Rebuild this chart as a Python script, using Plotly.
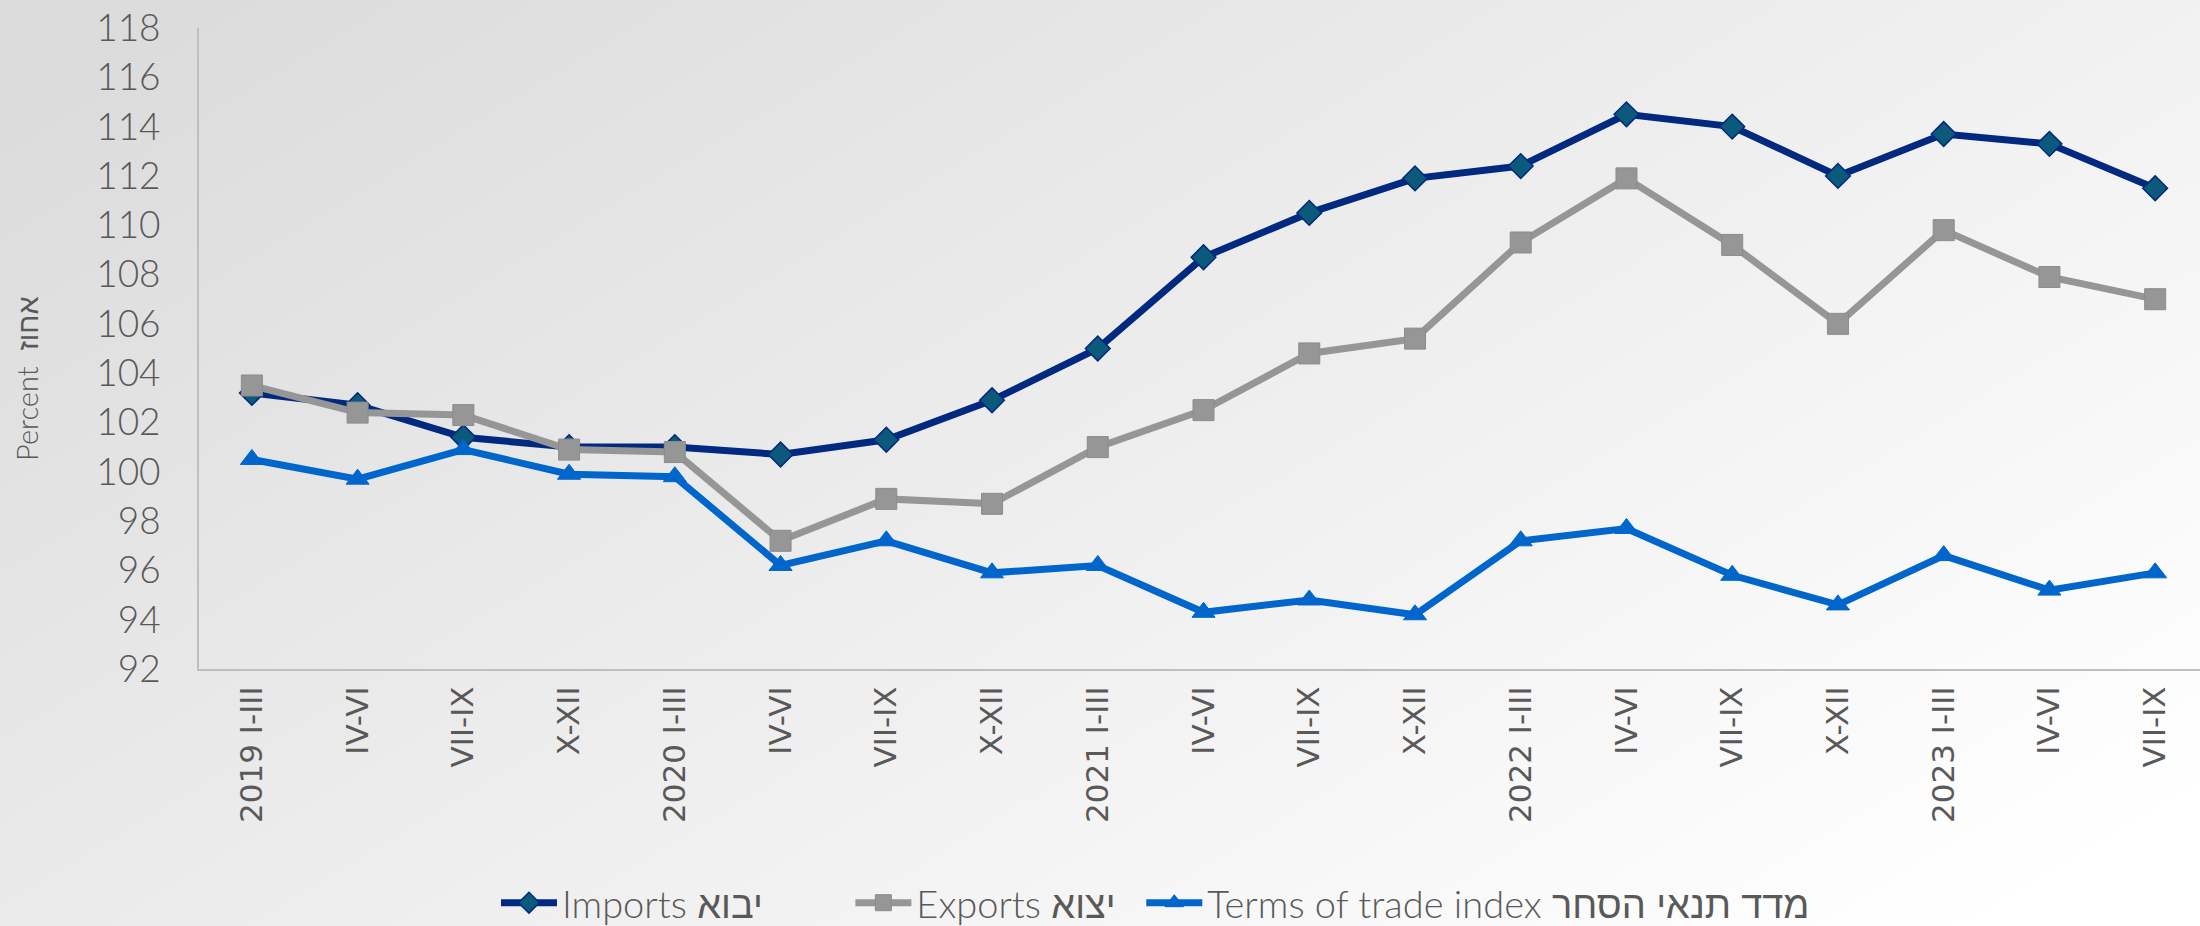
import base64
import plotly.graph_objects as go

categories = ["2019 I-III", "IV-VI", "VII-IX", "X-XII",
              "2020 I-III", "IV-VI", "VII-IX", "X-XII",
              "2021 I-III", "IV-VI", "VII-IX", "X-XII",
              "2022 I-III", "IV-VI", "VII-IX", "X-XII",
              "2023 I-III", "IV-VI", "VII-IX"]

imports = [103.2, 102.7, 101.4, 101.0, 101.0, 100.7, 101.3, 102.9,
           105.0, 108.7, 110.5, 111.9, 112.4, 114.5, 114.0, 112.0,
           113.7, 113.3, 111.5]
exports = [103.5, 102.4, 102.3, 100.9, 100.8, 97.2, 98.9, 98.7,
           101.0, 102.5, 104.8, 105.4, 109.3, 111.9, 109.2, 106.0,
           109.8, 107.9, 107.0]
terms = [100.5, 99.7, 100.9, 99.9, 99.8, 96.2, 97.2, 95.9,
         96.2, 94.3, 94.8, 94.2, 97.2, 97.7, 95.8, 94.6,
         96.6, 95.2, 95.9]

names = ["Imports יבוא", "Exports יצוא", "Terms of trade index מדד תנאי הסחר"]
y_ticks = list(range(92, 119, 2))

W, H = 2200, 926
L, R, T, B = 199, 0, 28, 257
pw = W - L - R
ph = H - T - B
NB = "\u00a0"

svg = f'''<svg xmlns="http://www.w3.org/2000/svg" width="{W}" height="{H}" viewBox="0 0 {W} {H}" preserveAspectRatio="none">
<defs><linearGradient id="g" x1="0" y1="0.15" x2="1" y2="0.85">
<stop offset="0" stop-color="#dcdcdc"/>
<stop offset="0.45" stop-color="#ececec"/>
<stop offset="1" stop-color="#ffffff"/>
</linearGradient></defs>
<rect x="0" y="0" width="{W}" height="{H}" fill="url(#g)"/>
</svg>'''
src = "data:image/svg+xml;base64," + base64.b64encode(svg.encode()).decode()

fig = go.Figure()
xs = list(range(len(categories)))
fig.add_trace(go.Scatter(
    x=xs, y=imports, name=names[0] + NB * 8, mode="lines+markers",
    line=dict(color="#00297f", width=7),
    marker=dict(symbol="diamond", size=19, color="#0b5a7c",
                line=dict(color="#00297f", width=1.5))))
fig.add_trace(go.Scatter(
    x=xs, y=exports, name=names[1] + NB * 2, mode="lines+markers",
    line=dict(color="#969696", width=7),
    marker=dict(symbol="square", size=21, color="#969696",
                line=dict(color="#8c8c8c", width=1))))
fig.add_trace(go.Scatter(
    x=xs, y=terms, name=names[2], mode="lines+markers",
    line=dict(color="#0066cc", width=7),
    marker=dict(symbol="triangle-up", size=20, color="#0066cc",
                line=dict(color="#0066cc", width=1))))

fig.update_layout(
    width=W, height=H,
    margin=dict(l=L, r=R, t=T, b=B, pad=0, autoexpand=False),
    paper_bgcolor="#ffffff",
    plot_bgcolor="rgba(0,0,0,0)",
    images=[dict(source=src, xref="paper", yref="paper",
                 x=-L / pw, y=1 + T / ph, sizex=W / pw, sizey=H / ph,
                 sizing="stretch", xanchor="left", yanchor="top",
                 layer="below", opacity=1)],
    showlegend=True,
    legend=dict(orientation="h", x=0.478, xanchor="center",
                yref="container", y=1 - 903 / H, yanchor="middle",
                font=dict(family="Lato, sans-serif", size=38, weight=300, color="#595959"),
                bgcolor="rgba(0,0,0,0)", itemwidth=56, tracegroupgap=0),
    xaxis=dict(
        automargin=False,
        range=[-0.5, len(categories) - 0.5 - 0.076],
        tickmode="array", tickvals=xs, ticktext=categories,
        tickangle=-90, showgrid=False, zeroline=False,
        showline=True, linecolor="#bfbfbf", linewidth=2,
        ticks="", ticklabelstandoff=3,
        tickfont=dict(family="Verdana, DejaVu Sans, sans-serif", size=31, color="#595959")),
    yaxis=dict(
        automargin=False,
        range=[92, 118], tickvals=y_ticks, showgrid=False, zeroline=False,
        showline=True, linecolor="#bfbfbf", linewidth=2,
        ticks="", ticklabelstandoff=29,
        tickfont=dict(family="Lato, sans-serif", size=37, weight=300, color="#595959")),
    annotations=[dict(text="Percent  אחוז", xref="paper", yref="paper",
                      x=(26 - L) / pw, y=(669 - 379) / ph, textangle=-90,
                      showarrow=False, xanchor="center", yanchor="middle",
                      font=dict(family="Lato, sans-serif", size=29, weight=300, color="#595959"))],
)

fig.write_html("out.html", config={"displayModeBar": False},
               post_script="document.body.style.margin='0';document.body.style.overflow='hidden';")
with open("out.html", encoding="utf-8") as f:
    html = f.read()
html = html.replace("<head>", "<head><style>html,body{margin:0;padding:0;overflow:hidden;}</style>", 1)
with open("out.html", "w", encoding="utf-8") as f:
    f.write(html)
